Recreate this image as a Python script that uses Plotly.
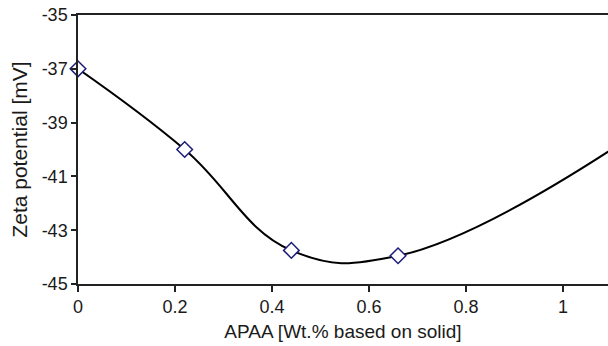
import plotly.graph_objects as go

apaa = [0, 0.22, 0.44, 0.66, 1.1]
zeta = [-37.0, -40.0, -43.75, -43.95, -40.0]
x_ticks = [0, 0.2, 0.4, 0.6, 0.8, 1.0]
x_tick_text = ["0", "0.2", "0.4", "0.6", "0.8", "1"]
y_ticks = [-45, -43, -41, -39, -37, -35]
y_tick_text = ["-45", "-43", "-41", "-39", "-37", "-35"]

font = "Liberation Sans, Arial, sans-serif"

fig = go.Figure()
fig.add_trace(go.Scatter(
    x=apaa, y=zeta, mode="lines+markers",
    line=dict(color="black", width=2, shape="spline", smoothing=1.2),
    marker=dict(symbol="diamond", size=12, color="white",
                line=dict(color="#1c1c7a", width=1.5)),
    cliponaxis=False, showlegend=False,
))

fig.update_layout(
    width=608, height=346,
    margin=dict(l=78, r=0, t=15, b=62),
    paper_bgcolor="white", plot_bgcolor="white",
    font=dict(family=font, size=18, color="#1a1a1a"),
    xaxis=dict(
        range=[0, 1.093], tickvals=x_ticks, ticktext=x_tick_text,
        showline=True, linecolor="#222", linewidth=1.5, mirror=True,
        ticks="outside", ticklen=6, tickcolor="#222", tickwidth=1.5,
        showgrid=False, zeroline=False,
        tickfont=dict(size=18),
        title=dict(text="APAA [Wt.% based on solid]", font=dict(size=19), standoff=8),
    ),
    yaxis=dict(
        range=[-45, -35], tickvals=y_ticks, ticktext=y_tick_text,
        showline=True, linecolor="#222", linewidth=1.5, mirror=False,
        ticks="outside", ticklen=5, tickcolor="#222", tickwidth=1.5,
        showgrid=False, zeroline=False,
        tickfont=dict(size=18),
        title=dict(text="Zeta potential [mV]", font=dict(size=21), standoff=8),
    ),
)

fig.write_html("out.html")
